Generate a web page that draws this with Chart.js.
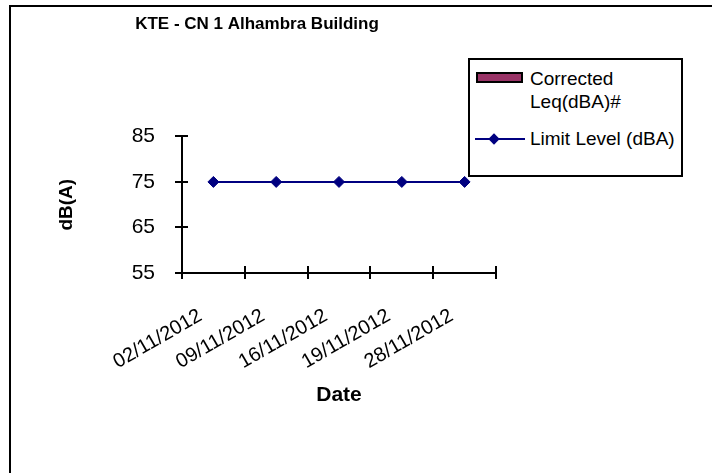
<!DOCTYPE html>
<html>
<head>
<meta charset="utf-8">
<script src="https://cdn.jsdelivr.net/npm/chart.js@4.4.0/dist/chart.umd.min.js"></script>
<style>
    html, body { margin: 0; padding: 0; background: #fff; overflow: hidden; }
    #wrap { position: relative; width: 712px; height: 473px; overflow: hidden; }
    #frame { position: absolute; left: 9px; top: 5px; width: 800px; height: 600px;
             border-left: 2px solid #000; border-top: 2px solid #000; }
    #chart { position: absolute; left: 0; top: 0; }
    #legend { position: absolute; left: 468px; top: 58px; width: 211px; height: 115px;
              border: 2px solid #000; background: #fff;
              font: 19px "Liberation Sans", Arial, sans-serif; color: #000; }
    #legend .swatch { position: absolute; left: 6px; top: 12px; width: 47px; height: 11px;
                      box-sizing: border-box; border: 2px solid #000; }
    #legend .label1 { position: absolute; left: 60px; top: 7px; width: 150px; line-height: 23px; }
    #legend .line { position: absolute; left: 5px; top: 78px; width: 50px; height: 2px; }
    #legend .diamond { position: absolute; left: 20px; top: 75px; width: 8px; height: 8px;
                       transform: rotate(45deg); }
    #legend .label2 { position: absolute; left: 60px; top: 67px; line-height: 23px; white-space: nowrap; }
</style>
</head>
<body>
<div id="wrap">
    <div id="frame"></div>
    <canvas id="chart" width="712" height="473"></canvas>
    <div id="legend"></div>
</div>
<script>
// Chart data
const categories = ['02/11/2012', '09/11/2012', '16/11/2012', '19/11/2012', '28/11/2012'];
const correctedLeq = [null, null, null, null, null];
const limitLevel = [75, 75, 75, 75, 75];
const yTicks = [55, 65, 75, 85];

const seriesNames = ['Corrected Leq(dBA)#', 'Limit Level (dBA)'];
const barColor = '#993366';
const lineColor = '#000080';
const fontFamily = '"Liberation Sans", Arial, sans-serif';

// Excel style tick marks that cross the axis lines
const crossTicks = {
    id: 'crossTicks',
    afterDraw(chart) {
        const { ctx, chartArea, scales: { x, y } } = chart;
        ctx.save();
        ctx.strokeStyle = '#000';
        ctx.lineWidth = 2;
        ctx.beginPath();
        y.ticks.forEach(t => {
            const py = Math.round(y.getPixelForValue(t.value));
            ctx.moveTo(chartArea.left - 7, py);
            ctx.lineTo(chartArea.left + 6, py);
        });
        for (let i = 0; i <= categories.length; i++) {
            const px = Math.round(x.getPixelForValue(i - 0.5));
            ctx.moveTo(px, chartArea.bottom - 7);
            ctx.lineTo(px, chartArea.bottom + 6);
        }
        ctx.stroke();
        ctx.restore();
    }
};

new Chart(document.getElementById('chart'), {
    type: 'bar',
    data: {
        labels: categories,
        datasets: [
            {
                type: 'bar',
                label: seriesNames[0],
                data: correctedLeq,
                backgroundColor: barColor,
                borderColor: '#000',
                borderWidth: 1
            },
            {
                type: 'line',
                label: seriesNames[1],
                data: limitLevel,
                borderColor: lineColor,
                backgroundColor: lineColor,
                borderWidth: 2,
                pointStyle: 'rectRot',
                pointRadius: 5.5,
                pointBorderWidth: 1,
                pointBackgroundColor: lineColor,
                pointBorderColor: lineColor,
                tension: 0
            }
        ]
    },
    options: {
        responsive: false,
        animation: false,
        layout: { padding: { left: 18, right: 216, top: 4, bottom: 0 } },
        plugins: {
            legend: { display: false },
            tooltip: { enabled: false },
            title: {
                display: true,
                text: 'KTE - CN 1 Alhambra Building',
                color: '#000',
                font: { family: fontFamily, size: 17, weight: 'bold' },
                padding: { top: 10, bottom: 102 }
            }
        },
        scales: {
            x: {
                offset: true,
                grid: { display: false, drawTicks: false },
                border: { display: true, color: '#000', width: 2 },
                ticks: {
                    color: '#000',
                    font: { family: fontFamily, size: 20 },
                    minRotation: 30,
                    maxRotation: 30,
                    autoSkip: false,
                    padding: 31,
                    labelOffset: -13
                },
                title: {
                    display: true,
                    text: 'Date',
                    color: '#000',
                    font: { family: fontFamily, size: 21, weight: 'bold' },
                    padding: { top: 0, bottom: 65 }
                },
                afterFit(scale) { scale.height = 200; }
            },
            y: {
                min: 55,
                max: 85,
                grid: { display: false, drawTicks: false },
                border: { display: true, color: '#000', width: 2 },
                ticks: {
                    color: '#000',
                    font: { family: fontFamily, size: 21 },
                    padding: 27
                },
                afterBuildTicks(scale) {
                    scale.ticks = yTicks.map(v => ({ value: v }));
                },
                title: {
                    display: true,
                    text: 'dB(A)',
                    color: '#000',
                    font: { family: fontFamily, size: 19, weight: 'bold' },
                    padding: { top: 37, bottom: 0 }
                },
                afterFit(scale) { scale.width = 164; }
            }
        }
    },
    plugins: [crossTicks]
});

// Legend box built from the series names and colours
const legend = document.getElementById('legend');
legend.innerHTML =
    '<div class="swatch" style="background:' + barColor + '"></div>' +
    '<div class="label1">' + seriesNames[0] + '</div>' +
    '<div class="line" style="background:' + lineColor + '"></div>' +
    '<div class="diamond" style="background:' + lineColor + '"></div>' +
    '<div class="label2">' + seriesNames[1] + '</div>';
</script>
</body>
</html>
